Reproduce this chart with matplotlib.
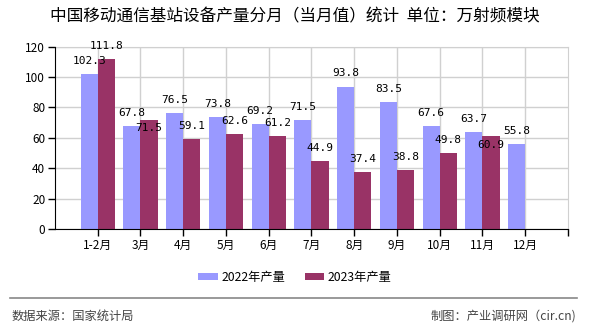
import matplotlib
matplotlib.use('Agg')
from matplotlib import pyplot as plt
from matplotlib.lines import Line2D

plt.rcParams['font.family'] = ['Noto Sans CJK SC', 'DejaVu Sans']

# data
months = ['1-2月', '3月', '4月', '5月', '6月', '7月', '8月', '9月', '10月', '11月', '12月']
prod_2022 = [102.3, 67.8, 76.5, 73.8, 69.2, 71.5, 93.8, 83.5, 67.6, 63.7, 55.8]
prod_2023 = [111.8, 71.5, 59.1, 62.6, 61.2, 44.9, 37.4, 38.8, 49.8, 60.9]
# labels that sit under the bar top in the original (collision avoidance)
below_2023 = [1, 9]

c2022 = '#9999ff'
c2023 = '#993366'
w = 0.4

fig = plt.figure(figsize=(5.9, 3.3), dpi=100)
ax = fig.add_axes([0.0932, 0.306, 0.8695, 0.5525])

x22 = list(range(len(prod_2022)))
x23 = list(range(len(prod_2023)))
ax.bar(x22, prod_2022, width=w, align='edge', color=c2022, label='2022年产量', zorder=2)
ax.bar(x23, prod_2023, width=w, align='edge', color=c2023, label='2023年产量', zorder=2)
# shift the 2022 bars to the left of the tick
for p in ax.patches[:len(prod_2022)]:
    p.set_x(p.get_x() - w)

lab_font = dict(family='DejaVu Sans Mono', fontsize=8, ha='center', va='center', zorder=3)
for i, v in enumerate(prod_2022):
    ax.annotate(f'{v:.1f}', (i - w / 2, v), xytext=(0, 9.4), textcoords='offset points', **lab_font)
for i, v in enumerate(prod_2023):
    dy = -5.8 if i in below_2023 else 9.4
    ax.annotate(f'{v:.1f}', (i + w / 2, v), xytext=(0, dy), textcoords='offset points', **lab_font)

ax.set_xlim(-1, len(months))
ax.set_ylim(0, 120)
ax.set_yticks(range(0, 121, 20))
ax.set_xticks(range(len(months)))
ax.set_xticklabels(months)
ax.set_xticks([len(months)], minor=True)
ax.tick_params(axis='both', which='both', direction='out', length=5, width=1, colors='black',
               labelsize=8.5, pad=2)
ax.grid(True, color='#d0d0d0', linewidth=1, zorder=0)
ax.set_axisbelow(True)
for s in ['top', 'right']:
    ax.spines[s].set_color('#d0d0d0')
for s in ['left', 'bottom']:
    ax.spines[s].set_color('black')
    ax.spines[s].set_zorder(4)

fig.text(0.5, 0.948, '中国移动通信基站设备产量分月（当月值）统计  单位：万射频模块',
         ha='center', va='center', fontsize=12)

fig.legend(loc='center', bbox_to_anchor=(0.5, 0.16), ncol=2, frameon=False,
           fontsize=8.8, handlelength=1.6, handleheight=0.55, columnspacing=1.6,
           handletextpad=0.3)

fig.add_artist(Line2D([0.017, 0.978], [0.097, 0.097], color='#888888', linewidth=1.2,
                      transform=fig.transFigure))
fig.text(0.019, 0.042, '数据来源：国家统计局', ha='left', va='center', fontsize=8.8, color='#444444')
fig.text(0.976, 0.042, '制图：产业调研网（cir.cn)', ha='right', va='center', fontsize=8.8,
         color='#444444')

fig.savefig('out.png', dpi=100, facecolor='white')
